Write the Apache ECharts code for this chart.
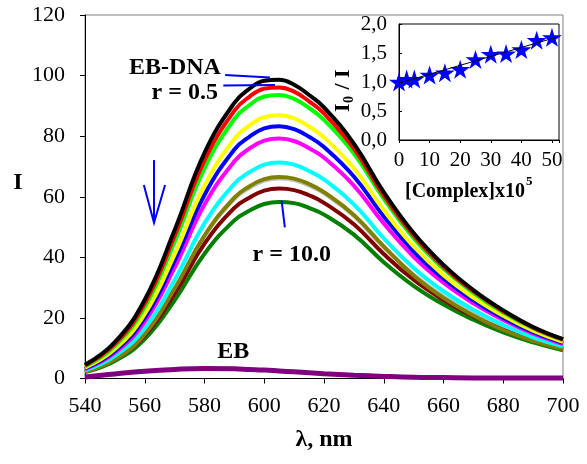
<!DOCTYPE html>
<html><head><meta charset="utf-8">
<script src="https://cdn.jsdelivr.net/npm/echarts@6/dist/echarts.min.js"></script>
<style>html,body{margin:0;padding:0;background:#fff}#c{width:587px;height:464px}</style>
</head><body><div id="c"></div>
<script>
// ---- data ----
const wavelengths = [540,550,560,570,580,590,595,600,605,610,615,620,630,640,650,660,670,680,690,700];
const ebDna   = [4.5,12.0,26.0,49.0,74.5,91.0,95.6,98.3,98.6,97.0,93.6,89.5,77.5,61.5,48.0,37.5,29.2,22.5,17.0,13.0];
const r05     = [4.3,11.4,24.8,47.1,72.0,88.4,93.0,95.7,96.1,94.7,91.5,87.5,75.9,60.4,47.2,36.9,28.8,22.2,16.8,12.9];
const rLime   = [4.0,10.8,23.6,45.1,69.4,85.7,90.2,93.1,93.6,92.3,89.3,85.4,74.3,59.3,46.3,36.2,28.3,21.8,16.6,12.7];
const rYellow = [3.6,9.7,21.3,41.0,63.7,79.1,83.5,86.3,86.9,85.9,83.2,79.6,69.4,55.6,43.6,34.1,26.7,20.7,15.8,12.1];
const rBlue   = [3.3,9.1,20.1,38.9,60.6,75.6,79.8,82.6,83.3,82.3,79.8,76.4,66.7,53.5,42.0,33.0,25.8,20.0,15.3,11.8];
const rMagenta= [3.1,8.5,18.8,36.6,57.4,71.7,75.9,78.5,79.2,78.4,76.0,72.9,63.7,51.2,40.2,31.6,24.8,19.3,14.8,11.4];
const rCyan   = [2.7,7.5,16.6,32.5,51.2,64.3,68.1,70.6,71.3,70.6,68.5,65.7,57.5,46.3,36.5,28.8,22.7,17.7,13.6,10.6];
const rGray   = [2.4,6.7,14.9,29.5,46.9,59.3,62.9,65.3,66.0,65.5,63.7,61.1,53.6,43.3,34.3,27.1,21.5,16.8,13.0,10.1];
const rOlive  = [2.2,6.3,14.6,29.7,47.2,59.7,63.4,65.8,66.5,66.0,64.2,61.5,54.0,43.6,34.0,26.6,20.8,16.0,12.4,9.7];
const rMaroon = [2.3,6.4,14.2,28.0,44.5,56.3,59.7,62.0,62.7,62.2,60.5,58.0,50.9,41.1,32.6,25.9,20.5,16.1,12.5,9.8];
const r10     = [2.1,5.8,13.0,25.8,41.2,52.2,55.4,57.6,58.3,57.9,56.3,54.1,47.5,38.4,30.6,24.4,19.4,15.2,11.9,9.3];
const ebFree  = [0.5,1.5,2.4,3.0,3.3,3.2,3.0,2.8,2.5,2.2,1.9,1.6,1.1,0.7,0.4,0.3,0.2,0.2,0.2,0.2];

const complexConc = [0,2.5,5,10,15,20,25,30,35,40,45,50];
const i0OverI     = [1.00,1.05,1.05,1.12,1.16,1.22,1.39,1.48,1.49,1.56,1.72,1.77];
const fitX = [0,52];
const fitY = [0.98,1.78];

// ---- styles ----
const curveList = [
  [rGray,'#c0c0c0'],[r10,'#008000'],[rMaroon,'#800000'],[rOlive,'#808000'],
  [rCyan,'#00ffff'],[rMagenta,'#ff00ff'],[rBlue,'#0000ff'],[rYellow,'#ffff00'],
  [rLime,'#00ff00'],[r05,'#ff0000'],[ebDna,'#000000']
];
const FONT = '"Liberation Serif","Times New Roman",serif';
const chart = echarts.init(document.getElementById('c'), null, {renderer:'canvas'});

const series = curveList.map(([vals,col]) => ({
  type:'line', xAxisIndex:0, yAxisIndex:0, symbol:'none', smooth:0.45,
  lineStyle:{color:col, width:4}, data: wavelengths.map((w,i)=>[w, vals[i]])
}));
series.push({type:'line', xAxisIndex:0, yAxisIndex:0, symbol:'none', smooth:0.45,
  lineStyle:{color:'#800080', width:5}, data: wavelengths.map((w,i)=>[w, ebFree[i]])});
const starPath = 'path://M50 0L61 35L98 35L68 57L79 91L50 70L21 91L32 57L2 35L39 35Z';
series.push({type:'scatter', xAxisIndex:1, yAxisIndex:1, symbol:starPath, symbolSize:[20,19],
  clip:false, itemStyle:{color:'#0000ff', opacity:1}, emphasis:{disabled:true},
  data: complexConc.map((c,i)=>[c, i0OverI[i]]), z:3});
series.push({type:'line', xAxisIndex:1, yAxisIndex:1, symbol:'none', z:4,
  lineStyle:{color:'#000', width:1}, data: fitX.map((x,i)=>[x, fitY[i]])});

chart.setOption({
  animation:false,
  grid:[
    {left:85, top:15, width:478, height:363.5, show:true, borderColor:'#808080', borderWidth:1},
    {left:399, top:24, width:160, height:116, show:true, borderColor:'#000', borderWidth:1}
  ],
  xAxis:[
    {type:'value', gridIndex:0, min:540, max:700, interval:20,
      axisLine:{lineStyle:{color:'#000', width:1}}, axisTick:{length:5, lineStyle:{color:'#000'}},
      splitLine:{show:false},
      axisLabel:{color:'#000', fontFamily:FONT, fontSize:22, margin:17}},
    {type:'value', gridIndex:1, min:0, max:52.3, interval:10,
      axisLine:{lineStyle:{color:'#000'}}, axisTick:{length:3, lineStyle:{color:'#000'}},
      splitLine:{show:false},
      axisLabel:{color:'#000', fontFamily:FONT, fontSize:21, margin:10,
        formatter:v=> (v%10===0 ? String(v) : '')}}
  ],
  yAxis:[
    {type:'value', gridIndex:0, min:0, max:120, interval:20,
      axisLine:{show:true, lineStyle:{color:'#000'}}, axisTick:{show:true, length:5, lineStyle:{color:'#000'}},
      splitLine:{show:false},
      axisLabel:{color:'#000', fontFamily:FONT, fontSize:22, margin:20}},
    {type:'value', gridIndex:1, min:0, max:2, interval:0.5,
      axisLine:{show:true, lineStyle:{color:'#000'}}, axisTick:{show:true, inside:true, length:3, lineStyle:{color:'#000'}},
      splitLine:{show:false},
      axisLabel:{color:'#000', fontFamily:FONT, fontSize:21, margin:12,
        formatter:v=>v.toFixed(1).replace('.', ',')}}
  ],
  series
});

// ---- annotations (placed in data coordinates of the main plot) ----
const P = (x,y)=>chart.convertToPixel({xAxisIndex:0, yAxisIndex:0},[x,y]);
const boldTxt = (text, pt, align, size) => ({type:'text', x:pt[0], y:pt[1], z:10,
  style:{text, fill:'#000', font:'bold '+(size||24)+'px '+FONT, textAlign:align||'center', textVerticalAlign:'middle'}});
const seg = (a,b,w) => ({type:'line', z:10, shape:{x1:a[0],y1:a[1],x2:b[0],y2:b[1]}, style:{stroke:'#0000ff', lineWidth:w||2}});

const g = [];
g.push(boldTxt('EB-DNA', P(585.5,102.7), 'right'));
g.push(seg(P(586.9,100.2), P(601.9,99.4)));
g.push(boldTxt('r = 0.5', P(584.5,94.4), 'right'));
g.push(seg(P(586.3,96.7), P(603.6,96.9)));
g.push(boldTxt('r = 10.0', P(609.2,40.8), 'center'));
g.push(seg(P(605.8,58.7), P(606.9,49.9)));
g.push(boldTxt('EB', P(589.6,8.7), 'center'));
const aTop = P(563.1,72.1), aTip = P(563.1,51.4), aL = P(559.7,63.9), aR = P(566.8,63.9);
g.push(seg(aTop, aTip, 2));
g.push({type:'polyline', z:10, shape:{points:[aL, aTip, aR]}, style:{stroke:'#0000ff', lineWidth:2, fill:null}});
// axis titles
g.push({type:'text', x:18, y:183, style:{text:'I', fill:'#000', font:'bold 24px '+FONT, textAlign:'center', textVerticalAlign:'middle'}});
g.push({type:'text', x:324, y:440, style:{text:'λ, nm', fill:'#000', font:'bold 24px '+FONT, textAlign:'center', textVerticalAlign:'middle'}});
g.push({type:'text', x:525, y:192, style:{text:'[Complex]x10', fill:'#000', font:'bold 20px '+FONT, textAlign:'right', textVerticalAlign:'middle'}});
g.push({type:'text', x:526, y:182, style:{text:'5', fill:'#000', font:'bold 13px '+FONT, textAlign:'left', textVerticalAlign:'middle'}});
g.push({type:'group', x:343, y:112, rotation:Math.PI/2, children:[
  {type:'text', x:0, y:0, style:{text:'I', fill:'#000', font:'bold 22px '+FONT, textAlign:'left', textVerticalAlign:'middle'}},
  {type:'text', x:9, y:6, style:{text:'0', fill:'#000', font:'bold 14px '+FONT, textAlign:'left', textVerticalAlign:'middle'}},
  {type:'text', x:17, y:0, style:{text:' / I', fill:'#000', font:'bold 22px '+FONT, textAlign:'left', textVerticalAlign:'middle'}}
]});
chart.setOption({graphic:g});
</script>
</body></html>
